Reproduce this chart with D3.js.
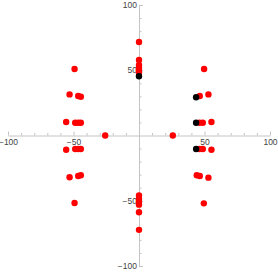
<!DOCTYPE html>
<html>
<head>
<meta charset="utf-8">
<script src="https://cdn.jsdelivr.net/npm/d3@7"></script>
<style>
  html, body { margin: 0; padding: 0; background: #fff; }
  svg { display: block; }
  .axis text { font-family: "Liberation Sans", Arial, sans-serif; font-size: 8.5px; fill: #444; }
  .axis path, .axis line { stroke: #c4c4c4; }
</style>
</head>
<body>
<svg id="chart" width="278" height="273"></svg>
<script>
// red series
const redX = [-49.2, -53, -46.4, -44.4, -55.6, -48.7, -46.4, -44.4,
    49.7, 53, 46.4, 55.3, 48.7, 46.2,
    -25.8, 25.8,
    0, 0, 0, 0, 0, 0,
    -55.6, -48.7, -46.4, -44.4, -53, -46.4, -44.4, -49.2,
    46.2, 48.7, 55.3, 44.1, 46.4, 53, 49.5,
    0, 0, 0, 0, 0, 0];
const redY = [51, 31.5, 30.3, 29.7, 10.3, 9.8, 9.8, 9.8,
    51, 31.5, 30.3, 10.3, 9.8, 9.8,
    0, 0,
    71.6, 57.8, 54, 52, 50, 48,
    -10.9, -10.3, -10.3, -10.3, -32, -31, -30.5, -51.7,
    -10.3, -10.3, -10.9, -30.5, -31, -32.3, -52,
    -46, -48.5, -51, -53, -58.8, -72.3];

// black series
const blackX = [0, 43.6, 43.6, 43.6];
const blackY = [45.4, 29.3, 9.8, -10.3];

const majorTicks = [-100, -50, 50, 100];
const minorTicks = [-90, -80, -70, -60, -40, -30, -20, -10, 10, 20, 30, 40, 60, 70, 80, 90];

const svg = d3.select("#chart");
const x = d3.scaleLinear().domain([-100, 100]).range([8, 270]);
const y = d3.scaleLinear().domain([-100, 100]).range([266, 5]);

// x axis
svg.append("g").attr("class", "axis")
    .attr("transform", `translate(0,${y(0)})`)
    .call(d3.axisBottom(x).tickValues(minorTicks).tickFormat("").tickSize(-2.5).tickSizeOuter(0));
svg.append("g").attr("class", "axis")
    .attr("transform", `translate(0,${y(0)})`)
    .call(d3.axisBottom(x).tickValues(majorTicks).tickSize(-4).tickSizeOuter(0).tickPadding(3))
    .call(g => g.select(".domain").remove());

// y axis
svg.append("g").attr("class", "axis")
    .attr("transform", `translate(${x(0)},0)`)
    .call(d3.axisLeft(y).tickValues(minorTicks).tickFormat("").tickSize(-2.5).tickSizeOuter(0));
svg.append("g").attr("class", "axis")
    .attr("transform", `translate(${x(0)},0)`)
    .call(d3.axisLeft(y).tickValues(majorTicks).tickSize(-4).tickSizeOuter(0).tickPadding(2))
    .call(g => g.select(".domain").remove());

const red = redX.map((v, i) => ({x: v, y: redY[i]}));
const black = blackX.map((v, i) => ({x: v, y: blackY[i]}));

svg.append("g").selectAll("circle")
    .data(red)
    .join("circle")
    .attr("cx", d => x(d.x))
    .attr("cy", d => y(d.y))
    .attr("r", 3.2)
    .attr("fill", "#ff0000");

svg.append("g").selectAll("circle")
    .data(black)
    .join("circle")
    .attr("cx", d => x(d.x))
    .attr("cy", d => y(d.y))
    .attr("r", 3.2)
    .attr("fill", "#000");
</script>
</body>
</html>
